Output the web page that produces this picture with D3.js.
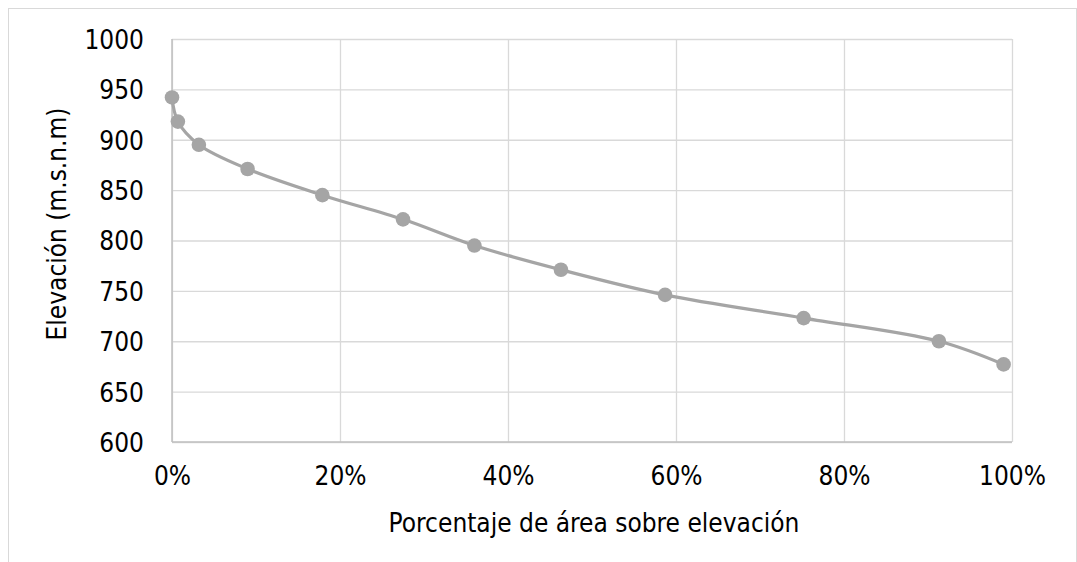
<!DOCTYPE html>
<html>
<head>
<meta charset="utf-8">
<script src="https://cdn.jsdelivr.net/npm/d3@7"></script>
<style>
  html, body { margin: 0; padding: 0; background: #fff; }
  svg { display: block; }
</style>
</head>
<body>
<svg id="chart" width="1077" height="562"></svg>
<script>
// Hypsometric curve: percentage of basin area above each elevation
const areaPct   = [0.0, 0.7, 3.2, 9.0, 17.9, 27.5, 36.0, 46.3, 58.7, 75.2, 91.3, 99.0];
const elevation = [942, 918, 895, 871, 845, 821, 795, 771, 746, 723, 700, 677];
const xTicks = [0, 20, 40, 60, 80, 100];
const yTicks = [600, 650, 700, 750, 800, 850, 900, 950, 1000];
const xTitle = "Porcentaje de área sobre elevación";
const yTitle = "Elevación (m.s.n.m)";

const svg = d3.select("#chart");
const font = "Tahoma, 'DejaVu Sans Condensed', 'DejaVu Sans', sans-serif";
const fontStretch = "condensed";
const fs = 26;
const plotL = 172, plotR = 1012, plotT = 39, plotB = 442;

// chart frame
svg.append("rect")
  .attr("x", 8.5).attr("y", 8.5)
  .attr("width", 1068).attr("height", 600)
  .attr("fill", "#fff").attr("stroke", "#d9d9d9").attr("stroke-width", 1);

const x = d3.scaleLinear().domain([0, 100]).range([plotL, plotR]);
const y = d3.scaleLinear().domain([600, 1000]).range([plotB, plotT]);

// horizontal gridlines
svg.append("g")
  .attr("transform", `translate(${plotL},0)`)
  .call(d3.axisLeft(y).tickValues(yTicks).tickSize(-(plotR - plotL)).tickFormat(""))
  .call(g => g.select(".domain").remove())
  .call(g => g.selectAll("line").attr("stroke", "#d9d9d9").attr("stroke-width", 1.3));

// vertical gridlines
svg.append("g")
  .attr("transform", `translate(0,${plotB})`)
  .call(d3.axisBottom(x).tickValues(xTicks).tickSize(-(plotB - plotT)).tickFormat(""))
  .call(g => g.select(".domain").remove())
  .call(g => g.selectAll("line").attr("stroke", "#d9d9d9").attr("stroke-width", 1.3));

// axis lines
svg.append("line")
  .attr("x1", plotL).attr("x2", plotL).attr("y1", plotT).attr("y2", plotB)
  .attr("stroke", "#bfbfbf").attr("stroke-width", 1.5);
svg.append("line")
  .attr("x1", plotL).attr("x2", plotR).attr("y1", plotB).attr("y2", plotB)
  .attr("stroke", "#bfbfbf").attr("stroke-width", 1.5);

function styleText(sel) {
  sel.attr("font-family", font).attr("font-stretch", fontStretch)
     .attr("font-size", fs).attr("fill", "#000");
}

// y tick labels
svg.append("g")
  .attr("transform", `translate(${plotL},0)`)
  .call(d3.axisLeft(y).tickValues(yTicks).tickSize(0).tickPadding(28).tickFormat(d3.format("d")))
  .call(g => g.select(".domain").remove())
  .call(g => g.selectAll("text").call(styleText).attr("dy", "0.36em"));

// x tick labels
svg.append("g")
  .attr("transform", `translate(0,${plotB})`)
  .call(d3.axisBottom(x).tickValues(xTicks).tickSize(0).tickPadding(25).tickFormat(d => d + "%"))
  .call(g => g.select(".domain").remove())
  .call(g => g.selectAll("text").call(styleText));

// axis titles
svg.append("text")
  .attr("x", 594).attr("y", 532)
  .attr("text-anchor", "middle")
  .call(styleText)
  .text(xTitle);
svg.append("text")
  .attr("transform", `translate(66,224) rotate(-90)`)
  .attr("text-anchor", "middle")
  .call(styleText)
  .text(yTitle);

// smoothed series line
const pts = areaPct.map((p, i) => [p, elevation[i]]);
const line = d3.line()
  .x(d => x(d[0])).y(d => y(d[1]))
  .curve(d3.curveCatmullRom.alpha(0.5));
svg.append("path")
  .datum(pts)
  .attr("d", line)
  .attr("fill", "none").attr("stroke", "#a5a5a5").attr("stroke-width", 3.2);

// markers
svg.append("g").selectAll("circle")
  .data(pts)
  .join("circle")
  .attr("cx", d => x(d[0])).attr("cy", d => y(d[1]))
  .attr("r", 7.3).attr("fill", "#a5a5a5");
</script>
</body>
</html>
